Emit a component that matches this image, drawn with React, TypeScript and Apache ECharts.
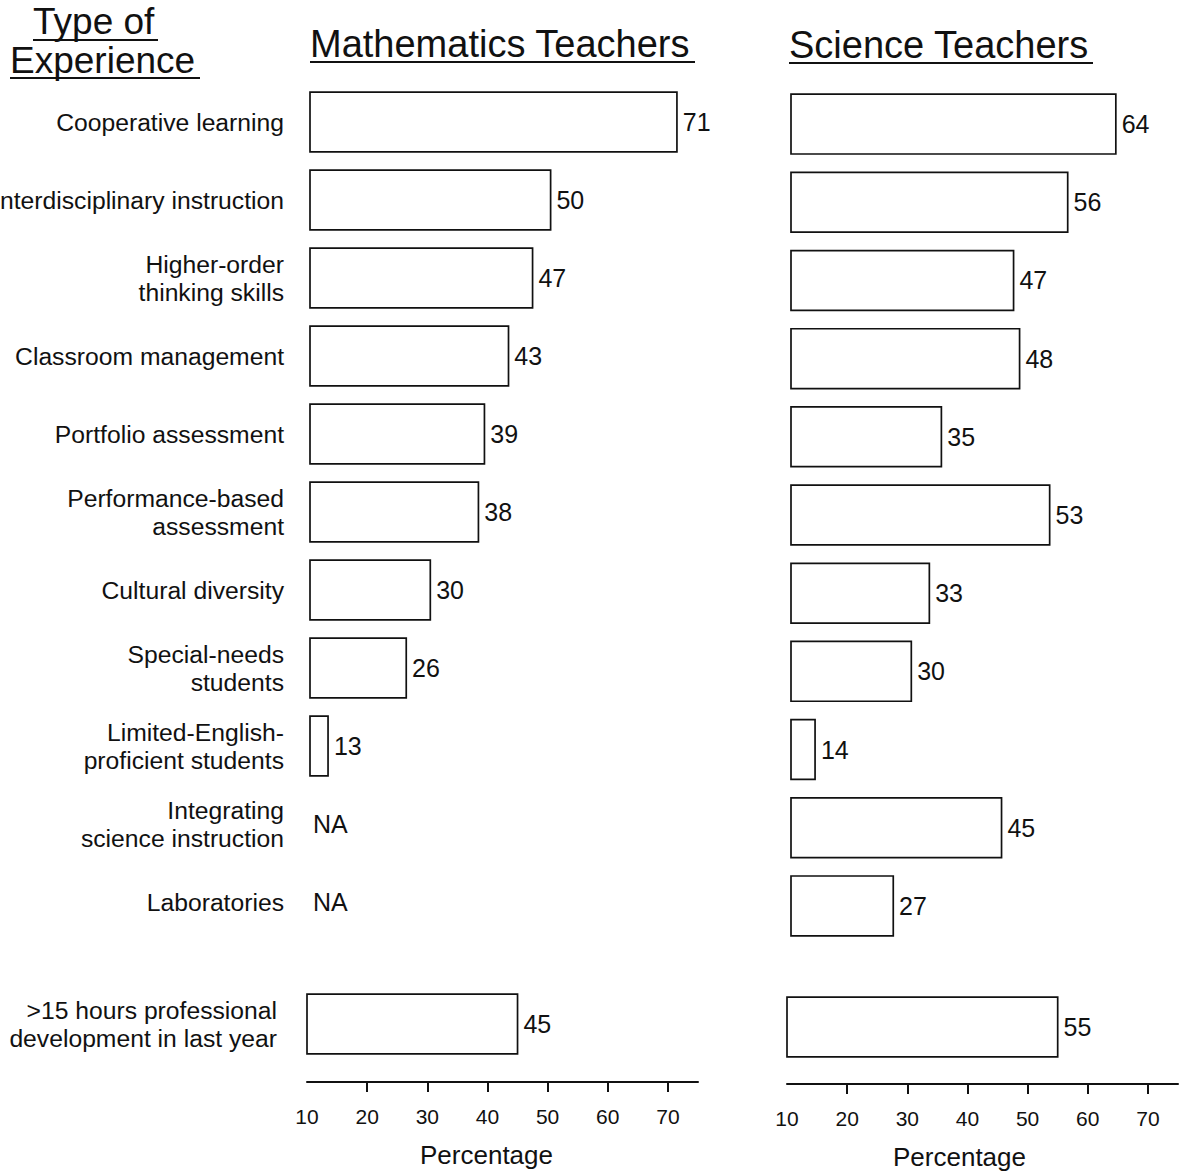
import React, { useEffect, useRef } from "react";
import * as echarts from "echarts";

// ---------------- data ----------------
const CATEGORIES = [
  "Cooperative learning",
  "Interdisciplinary instruction",
  "Higher-order\nthinking skills",
  "Classroom management",
  "Portfolio assessment",
  "Performance-based\nassessment",
  "Cultural diversity",
  "Special-needs\nstudents",
  "Limited-English-\nproficient students",
  "Integrating\nscience instruction",
  "Laboratories",
];
const PD_CATEGORY = [">15 hours professional\ndevelopment in last year"];
const MATH_VALUES: (number | null)[] = [71, 50, 47, 43, 39, 38, 30, 26, 13, null, null];
const SCIENCE_VALUES: (number | null)[] = [64, 56, 47, 48, 35, 53, 33, 30, 14, 45, 27];
const MATH_PD: (number | null)[] = [45];
const SCIENCE_PD: (number | null)[] = [55];
const TICK_LABELS = [10, 20, 30, 40, 50, 60, 70];
const AXIS_MIN = 10;
const AXIS_MAX = 75;

// ---------------- style ----------------
const FONT = '"Liberation Sans", Arial, Helvetica, sans-serif';
const INK = "#111";
const BAR_RATIO = 0.765;
const LABEL_SIZE = 24.7;

const toData = (vals: (number | null)[]) =>
  vals.map((v, i) => [i, v === null ? AXIS_MIN : v, v === null ? 1 : 0]);

const renderBar = (_params: any, api: any) => {
  const cat = api.value(0);
  const v = api.value(1);
  const na = api.value(2);
  const start = api.coord([AXIS_MIN, cat]);
  const end = api.coord([v, cat]);
  const band = api.size([0, 1])[1];
  const h = band * BAR_RATIO;
  if (na) {
    return {
      type: "text",
      x: start[0] + 3,
      y: start[1],
      style: {
        text: "NA",
        fill: INK,
        fontSize: 25,
        fontFamily: FONT,
        align: "left",
        verticalAlign: "middle",
      },
    };
  }
  return {
    type: "rect",
    shape: { x: start[0], y: start[1] - h / 2, width: end[0] - start[0], height: h },
    style: { fill: "#fff", stroke: INK, lineWidth: 1.7 },
    textContent: {
      style: { text: String(v), fill: INK, fontSize: 25, fontFamily: FONT },
    },
    textConfig: { position: "right", distance: 5 },
  };
};

const catAxis = (gridIndex: number, data: string[], showLabel: boolean, margin: number) => ({
  type: "category",
  gridIndex,
  data,
  inverse: true,
  axisLine: { show: false },
  axisTick: { show: false },
  splitLine: { show: false },
  axisLabel: {
    show: showLabel,
    color: INK,
    fontSize: LABEL_SIZE,
    lineHeight: 28,
    fontFamily: FONT,
    margin,
    align: "right",
  },
});

const hiddenValAxis = (gridIndex: number) => ({
  type: "value",
  gridIndex,
  min: AXIS_MIN,
  max: AXIS_MAX,
  show: false,
  splitLine: { show: false },
});

const shownValAxis = (gridIndex: number, offset: number, namePadRight: number) => ({
  type: "value",
  gridIndex,
  min: AXIS_MIN,
  max: AXIS_MAX,
  interval: 10,
  offset,
  name: "Percentage",
  nameLocation: "middle",
  nameGap: 60,
  nameTextStyle: {
    color: INK,
    fontSize: 26,
    fontFamily: FONT,
    padding: [0, namePadRight, 0, 0],
  },
  splitLine: { show: false },
  axisLine: { show: true, lineStyle: { color: INK, width: 2 } },
  axisTick: {
    show: true,
    inside: false,
    length: 10,
    lineStyle: { color: INK, width: 2 },
    customValues: TICK_LABELS.slice(1),
  },
  axisLabel: {
    color: INK,
    fontSize: 21,
    fontFamily: FONT,
    margin: 24,
    customValues: TICK_LABELS,
  },
});

export default function App() {
  const ref = useRef<HTMLDivElement>(null);
  useEffect(() => {
    if (!ref.current) return;
    const chart = echarts.init(ref.current, null, { renderer: "svg" });
    const titleStyle = (text: string, size = 38) => ({
      text,
      fill: INK,
      fontSize: size,
      fontFamily: FONT,
      align: "left",
      verticalAlign: "middle",
    });
    const option: any = {
      animation: false,
      backgroundColor: "#fff",
      textStyle: { fontFamily: FONT },
      grid: [
        { left: 310, top: 83, width: 391, height: 858, containLabel: false, outerBoundsMode: "none" },
        { left: 307, top: 985, width: 391, height: 78, containLabel: false, outerBoundsMode: "none" },
        { left: 791, top: 85, width: 391, height: 860, containLabel: false, outerBoundsMode: "none" },
        { left: 787, top: 988, width: 391, height: 78, containLabel: false, outerBoundsMode: "none" },
      ],
      xAxis: [
        hiddenValAxis(0),
        shownValAxis(1, 19, 32),
        hiddenValAxis(2),
        shownValAxis(3, 18, 46),
      ],
      yAxis: [
        catAxis(0, CATEGORIES, true, 26),
        catAxis(1, PD_CATEGORY, true, 30),
        catAxis(2, CATEGORIES, false, 26),
        catAxis(3, PD_CATEGORY, false, 30),
      ],
      series: [
        { type: "custom", name: "Mathematics", xAxisIndex: 0, yAxisIndex: 0, encode: { x: 1, y: 0 }, renderItem: renderBar, data: toData(MATH_VALUES) },
        { type: "custom", name: "Mathematics PD", xAxisIndex: 1, yAxisIndex: 1, encode: { x: 1, y: 0 }, renderItem: renderBar, data: toData(MATH_PD) },
        { type: "custom", name: "Science", xAxisIndex: 2, yAxisIndex: 2, encode: { x: 1, y: 0 }, renderItem: renderBar, data: toData(SCIENCE_VALUES) },
        { type: "custom", name: "Science PD", xAxisIndex: 3, yAxisIndex: 3, encode: { x: 1, y: 0 }, renderItem: renderBar, data: toData(SCIENCE_PD) },
      ],
      graphic: [
        { type: "text", x: 33, y: 21, style: titleStyle("Type of", 37) },
        { type: "line", shape: { x1: 33, y1: 40, x2: 158, y2: 40 }, style: { stroke: INK, lineWidth: 2 } },
        { type: "text", x: 10, y: 60, style: titleStyle("Experience", 37) },
        { type: "line", shape: { x1: 10, y1: 78, x2: 200, y2: 78 }, style: { stroke: INK, lineWidth: 2 } },
        { type: "text", x: 310, y: 44, style: titleStyle("Mathematics Teachers") },
        { type: "line", shape: { x1: 310, y1: 62, x2: 695, y2: 62 }, style: { stroke: INK, lineWidth: 2 } },
        { type: "text", x: 789, y: 45, style: titleStyle("Science Teachers") },
        { type: "line", shape: { x1: 789, y1: 63, x2: 1093, y2: 63 }, style: { stroke: INK, lineWidth: 2 } },
      ],
    };
    chart.setOption(option);
    return () => chart.dispose();
  }, []);
  return (
    <div
      ref={ref}
      style={{ position: "absolute", left: 0, top: 0, width: 1181, height: 1172, background: "#fff" }}
    />
  );
}
